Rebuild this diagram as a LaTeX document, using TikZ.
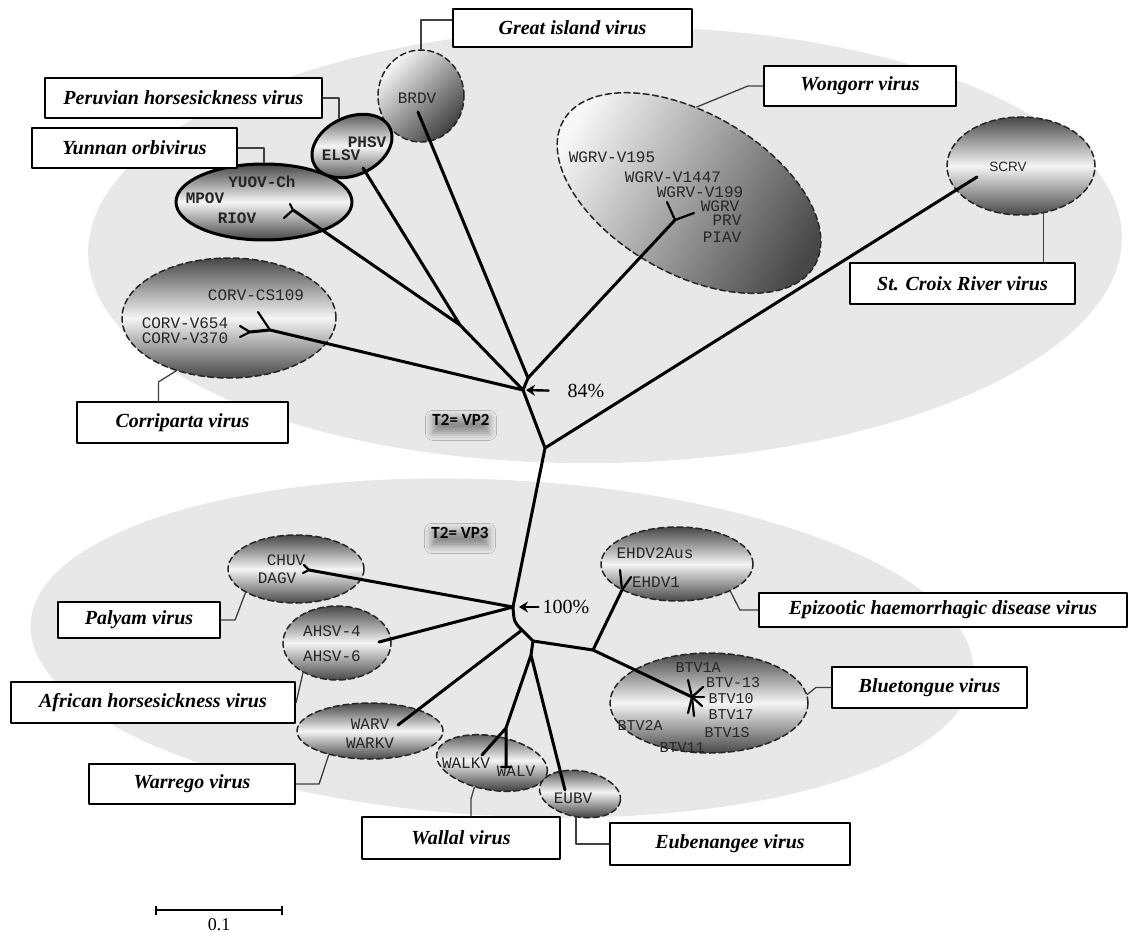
\documentclass[tikz,border=0pt]{standalone}
\usepackage{fontspec}
\setmainfont{Liberation Serif}
\setmonofont{Liberation Mono}
\setsansfont{Liberation Sans}
\newfontfamily\tagfont{Carlito}
\usetikzlibrary{shapes.geometric,arrows.meta,shadows.blur}
\begin{document}
\begin{tikzpicture}[x=1pt, y=-1pt, line join=round, line cap=round,
    branch/.style={line width=3pt},
    twig/.style={line width=2.2pt},
    clade/.style={ellipse, inner sep=0pt, draw=black!85, line width=1.5pt, dash pattern=on 6pt off 3.5pt, top color=black!72, bottom color=black!72, middle color=black!4},
    clade bold/.style={clade, solid, line width=3pt, draw=black},
    clade diag/.style={clade, top color=black!3, bottom color=black!75, shading angle=45},
    clade side/.style={clade, left color=black!3, right color=black!72, shading angle=60},
    virusbox/.style={draw, line width=2.2pt, fill=white, inner sep=0pt, font=\fontsize{20}{24}\selectfont\bfseries\itshape},
    lead/.style={line width=1.3pt, black!75},
    strain/.style={inner sep=0pt, black!85, font=\fontsize{16}{18}\selectfont\ttfamily},
    strain small/.style={strain, font=\fontsize{15}{17}\selectfont\ttfamily},
    strain bold/.style={strain, font=\fontsize{16}{18}\selectfont\ttfamily\bfseries},
    tag/.style={inner sep=3pt, font=\fontsize{17}{20}\selectfont\tagfont\bfseries, blur shadow={shadow xshift=0pt, shadow yshift=-6pt, shadow scale=0.9, shadow blur radius=8pt, shadow opacity=40}},
    boot/.style={inner sep=0pt, font=\fontsize{20}{24}\selectfont},
    bootarrow/.style={-{Stealth[length=9pt, width=11pt]}, line width=2.4pt}]

\useasboundingbox (0,0) rectangle (1135,936);
\fill[black!9, rotate around={1:(605,245)}] (605,245) ellipse [x radius=517, y radius=218];
\fill[black!9, rotate around={-3:(502,648)}] (502,648) ellipse [x radius=472, y radius=168];

\foreach \n/\x/\y/\w/\h/\r/\s in {
  cbrdv/421/96/86/92/0/clade diag,
  cphsv/352/146/84/58/25/clade bold,
  cyuov/264/202/176/76/0/clade bold,
  cwgrv/689/193/290/160/-30/clade side,
  cscrv/1021/166/148/98/0/clade,
  ccorv/229/318/214/120/0/clade,
  cchuv/296/569/136/68/0/clade,
  cahsv/337/643/108/74/0/clade,
  cwarv/370/731/146/56/0/clade,
  cwalv/492/763/112/54/-10/clade,
  ceubv/580/794/82/46/-10/clade,
  cehdv/677/564/152/74/0/clade,
  cbtv/709/703/198/100/0/clade}
  \node[\s, minimum width=\w pt, minimum height=\h pt, rotate=\r] (\n) at (\x,\y) {};

\foreach \n/\x/\y/\w/\h/\t in {
  great/572.5/28/239/38/Great island virus,
  peru/183.5/98/277/40/Peruvian horsesickness virus,
  yunnan/134.5/148/205/40/Yunnan orbivirus,
  wong/860/86/192/40/Wongorr virus,
  stcroix/962.5/283.5/225/41/St. Croix River virus,
  corr/182.5/422.5/211/41/Corriparta virus,
  palyam/139/620/162/36/Palyam virus,
  african/153/702.5/284/41/African horsesickness virus,
  warrego/192/784/206/40/Warrego virus,
  wallal/461/838/198/42/Wallal virus,
  eub/730/844/240/42/Eubenangee virus,
  epi/943/610/368/34/Epizootic haemorrhagic disease virus,
  blue/929.5/687.5/195/41/Bluetongue virus}
  \node[virusbox, minimum width=\w pt, minimum height=\h pt] (\n) at (\x,\y) {\t};

\foreach \n/\x/\y/\t in {
  brdv/417/98/BRDV,
  wgrv195/612/157/WGRV-V195, wgrv1447/673/177/WGRV-V1447, wgrv199/700/192/WGRV-V199,
  wgrv/720/206/WGRV, prv/727/220/PRV, piav/722/237/PIAV,
  corvcs/256/295/CORV-CS109, corv654/185/323/CORV-V654, corv370/185/338/CORV-V370,
  chuv/286/560/CHUV, dagv/277/578/DAGV, ahsv4/332/631/AHSV-4, ahsv6/332/656/AHSV-6,
  warv/370/724/WARV, warkv/370/743/WARKV, walkv/466/763/WALKV, walv/516/771/WALV,
  eubv/573/798/EUBV, ehdv2/655/553/EHDV2Aus, ehdv1/656/582/EHDV1}
  \node[strain] (\n) at (\x,\y) {\t};
\foreach \n/\x/\y/\t in {
  btv1a/698/668/BTV1A, btv13/733/683/BTV-13, btv10/731/699/BTV10, btv17/731/715/BTV17,
  btv1s/727/733/BTV1S, btv2a/640/725/BTV2A, btv11/682/748/BTV11}
  \node[strain small] (\n) at (\x,\y) {\t};
\foreach \n/\x/\y/\t in {phsv/367/142/PHSV, elsv/341/155/ELSV, yuov/262/182/YUOV-Ch, mpov/205/198/MPOV, riov/237/218/RIOV}
  \node[strain bold] (\n) at (\x,\y) {\t};
\node[strain, font=\fontsize{13.5}{16}\selectfont\sffamily] (scrv) at (1008,167) {SCRV};

\coordinate (A) at (523,390); \coordinate (J) at (528,378); \coordinate (K) at (460,325);
\coordinate (B) at (545,448); \coordinate (C) at (513,607); \coordinate (C2) at (522,630);
\coordinate (E) at (533,641); \coordinate (G) at (531,655); \coordinate (D) at (593,650);
\coordinate (W) at (506,728); \coordinate (H) at (622,590); \coordinate (T) at (692,697);
\coordinate (triov) at (293,210); \coordinate (telsv) at (363,168); \coordinate (tbrdv) at (418,112);
\coordinate (twgrv) at (675,220); \coordinate (tscrv) at (977,177); \coordinate (tcorv) at (270,330);
\coordinate (fcorv) at (250,332); \coordinate (tchuv) at (309,570); \coordinate (tahsv) at (379,642);
\coordinate (twarv) at (398,725); \coordinate (twalkv) at (482,755); \coordinate (twalv) at (506,767);
\coordinate (teubv) at (565,790);

\draw[branch] (triov) -- (K) -- (A) -- (B) -- (C) (telsv) -- (K) (tbrdv) -- (J) -- (A)
  (twgrv) -- (J) (fcorv) -- (tcorv) -- (A) (tscrv) -- (B);
\draw[branch] (tchuv) -- (C) .. controls (514,622) .. (C2) -- (E) -- (D) -- (H) (tahsv) -- (C)
  (C2) -- (twarv) (E) -- (G) -- (W) -- (twalkv) (W) -- (twalv) (G) -- (teubv) (D) -- (T);
\draw[twig] (triov) -- ++(-9,8) (triov) -- ++(-3,-6)
  (twgrv) -- ++(-8,-18) (twgrv) -- ++(19,-7)
  (tcorv) -- ++(-12,-18) (fcorv) -- ++(-10,-6) (fcorv) -- ++(-10,5)
  (tchuv) -- ++(-5,-5) (tchuv) -- ++(-6,3)
  (twalv) ++(-5,0) -- ++(10,0)
  (H) -- ++(-2,-20) (H) -- ++(9,-13);
\foreach \dx/\dy in {-4/-17, 11/-10, 12/0, 10/9, 2/19, -4/16} \draw[twig] (T) -- ++(\dx,\dy);

\node[boot] (p84) at (586,391) {84\%};
\draw[bootarrow, shorten <=19pt, shorten >=3pt] (p84.west) -- (A);
\node[boot] (p100) at (566,607) {100\%};
\draw[bootarrow, shorten <=4pt, shorten >=6pt] (p100.west) -- (C);

\node[tag] (vp2) at (461,420) {T2= VP2};
\node[tag] (vp3) at (460,533) {T2= VP3};

\draw[lead] ([yshift=8pt]great.west) -| (cbrdv.north);
\draw[lead] (peru.east) -| (cphsv.north);
\draw[lead] (yunnan.east) -| (cyuov.north);
\draw[lead] (wong.west) -- ++(-15,0) -- (cwgrv.115);
\draw[lead] (cscrv.-65) -- (cscrv.-65 |- stcroix.north);
\draw[lead] ([xshift=-24pt]corr.north) -- ++(0,-19) -- (ccorv.-135);
\draw[lead] (palyam.east) -- ++(14,0) -- (cchuv.-155);
\draw[lead] (cahsv.-139) -- (african.east);
\draw[lead] (warrego.east) -- ++(23,0) -- (cwarv.-150);
\draw[lead] ([xshift=10pt]wallal.north) -- ++(0,-17) -- (cwalv.-116);
\draw[lead] (ceubv.south) |- (eub.west);
\draw[lead] (epi.west) -- ++(-18,0) -- (cehdv.-27);
\draw[lead] (blue.west) -- ++(-15,0) -- (cbtv.5);

\coordinate (sbl) at (155,910); \coordinate (sbr) at (283,910);
\draw[line width=2pt, {Bar[width=9pt]}-{Bar[width=9pt]}] (sbl) -- (sbr);
\node[boot, font=\fontsize{18}{20}\selectfont] (sbtxt) at (219,925) {0.1};
\end{tikzpicture}
\end{document}
